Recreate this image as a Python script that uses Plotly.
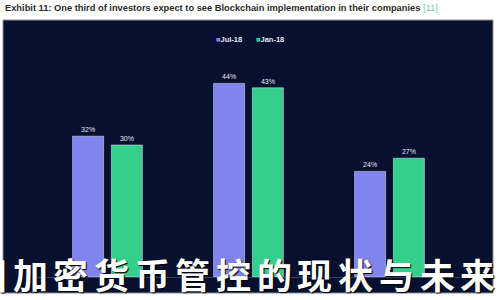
import plotly.graph_objects as go

categories = ["Group 1", "Group 2", "Group 3"]
jul18 = [32, 44, 24]
jan18 = [30, 43, 27]
series_names = ["Jul-18", "Jan-18"]
series_colors = ["#8183ee", "#35cf8c"]

title_text = "Exhibit 11: One third of investors expect to see Blockchain implementation in their companies"
ref_text = "[11]"
overlay_text = "国加密货币管控的现状与未来"

W, H = 500, 300
L, R, T, B = 37, 40, 57, 23
pw, ph = W - L - R, H - T - B

def px_x(x):
    return (x - L) / pw

def px_y(y):
    return (H - B - y) / ph

fig = go.Figure()
for name, vals, col in zip(series_names, [jul18, jan18], series_colors):
    fig.add_bar(x=categories, y=vals, name=name, marker_color=col,
                texttemplate="%{y}%", textposition="outside",
                textfont=dict(size=7, color="#e6e8f5", family="Liberation Sans"),
                cliponaxis=False)

annotations = [
    dict(text=f"<b>{title_text}</b> <span style='color:#6fcfc0'>{ref_text}</span>",
         xref="paper", yref="paper", x=px_x(3), y=px_y(8), xanchor="left", yanchor="middle",
         showarrow=False, font=dict(size=9.3, color="#2b2b2b", family="Liberation Sans")),
]
# legend entries as two text labels
legend_x = [229, 270]
for n, c, lx in zip(series_names, series_colors, legend_x):
    annotations.append(dict(
        text=f"<span style='color:{c}'>■</span><b>{n}</b>", xref="paper", yref="paper",
        x=px_x(lx), y=px_y(40), xanchor="center", yanchor="middle", showarrow=False,
        font=dict(size=7.5, color="#e6e8f5", family="Liberation Sans")))

step = 40.7
first_center = 30 - step
for i, ch in enumerate(overlay_text):
    annotations.append(dict(
        text=ch, xref="paper", yref="paper", x=px_x(first_center + i * step), y=px_y(273),
        xanchor="center", yanchor="middle", showarrow=False,
        font=dict(size=35, color="white", family="Noto Sans CJK SC", weight=700,
                  shadow="1px 1px 1px #000")))

fig.update_layout(
    width=W, height=H,
    margin=dict(l=L, r=R, t=T, b=B),
    paper_bgcolor="white",
    plot_bgcolor="rgba(0,0,0,0)",
    barmode="group", bargap=0.45, bargroupgap=0.2,
    showlegend=False,
    xaxis=dict(showticklabels=False, showgrid=False, zeroline=False,
               showline=True, linecolor="#3a4260", linewidth=1, ticks=""),
    yaxis=dict(range=[0, 50], showticklabels=False, showgrid=False, zeroline=False),
    shapes=[dict(type="rect", xref="paper", yref="paper",
                 x0=px_x(3), x1=px_x(493), y0=px_y(293), y1=px_y(20),
                 fillcolor="#07112f", line=dict(color="#8a90a0", width=1), layer="below")],
    annotations=annotations,
)

fig.write_html("out.html")
